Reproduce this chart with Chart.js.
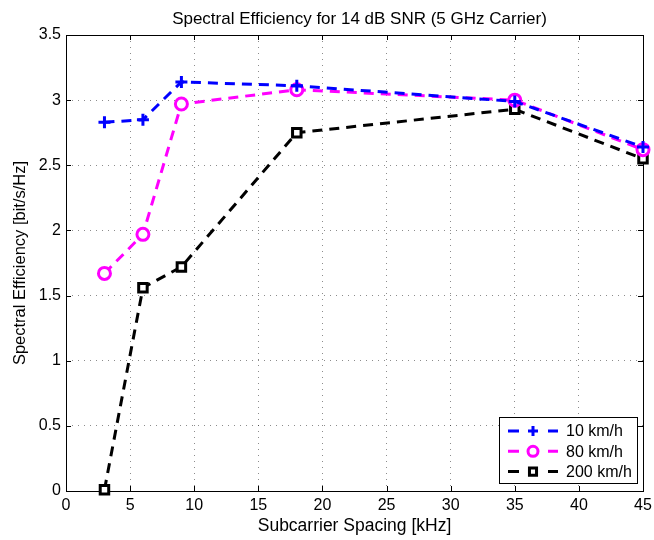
<!DOCTYPE html>
<html>
<head>
<meta charset="utf-8">
<script src="https://cdn.jsdelivr.net/npm/chart.js@4"></script>
<style>
  html, body { margin: 0; padding: 0; background: #fff; }
</style>
</head>
<body>
<canvas id="c" width="654" height="540"></canvas>
<script>
// data
const spacing = [3, 6, 9, 18, 35, 45];
const se10 = [2.83, 2.85, 3.14, 3.11, 2.99, 2.64];
const se80 = [1.67, 1.97, 2.97, 3.08, 3.0, 2.62];
const se200 = [0.01, 1.56, 1.72, 2.75, 2.93, 2.55];
const seriesNames = ['10 km/h', '80 km/h', '200 km/h'];
const xTicks = [0, 5, 10, 15, 20, 25, 30, 35, 40, 45];
const yTicks = [0, 0.5, 1, 1.5, 2, 2.5, 3, 3.5];
const chartTitle = 'Spectral Efficiency for 14 dB SNR (5 GHz Carrier)';

const fontFam = "'Liberation Sans', Arial, sans-serif";
Chart.defaults.font.family = fontFam;
Chart.defaults.font.size = 16;
Chart.defaults.color = '#000';

const toPts = ys => spacing.map((x, i) => ({ x: x, y: ys[i] }));
const dash = [10, 7];

// box + inward tick marks + title over the axes, matlab style
const framePlugin = {
  id: 'frame',
  beforeDatasetsDraw(chart) {
    const { ctx, chartArea: a, scales } = chart;
    ctx.save();
    ctx.strokeStyle = '#000';
    ctx.lineWidth = 1;
    ctx.beginPath();
    xTicks.forEach(v => {
      const px = Math.round(scales.x.getPixelForValue(v)) + 0.5;
      ctx.moveTo(px, a.bottom); ctx.lineTo(px, a.bottom - 5);
      ctx.moveTo(px, a.top); ctx.lineTo(px, a.top + 5);
    });
    yTicks.forEach(v => {
      const py = Math.round(scales.y.getPixelForValue(v)) + 0.5;
      ctx.moveTo(a.left, py); ctx.lineTo(a.left + 5, py);
      ctx.moveTo(a.right, py); ctx.lineTo(a.right - 5, py);
    });
    ctx.stroke();
    ctx.strokeRect(Math.round(a.left) + 0.5, Math.round(a.top) + 0.5,
      Math.round(a.right - a.left), Math.round(a.bottom - a.top));

    ctx.fillStyle = '#000';
    ctx.font = '17px ' + fontFam;
    ctx.textAlign = 'center';
    ctx.textBaseline = 'middle';
    ctx.fillText(chartTitle, (a.left + a.right) / 2 + 5, 19);
    ctx.restore();
  }
};

// legend box in lower right corner
const legendPlugin = {
  id: 'boxLegend',
  afterDraw(chart) {
    const { ctx, chartArea: a } = chart;
    const w = 138, h = 66;
    const x0 = Math.round(a.right) - 6 - w, y0 = Math.round(a.bottom) - 8 - h;
    ctx.save();
    ctx.fillStyle = '#fff';
    ctx.fillRect(x0, y0, w, h);
    ctx.strokeStyle = '#000';
    ctx.lineWidth = 1;
    ctx.strokeRect(x0 + 0.5, y0 + 0.5, w, h);
    chart.data.datasets.forEach((ds, i) => {
      const y = y0 + 14 + i * 20.3;
      ctx.strokeStyle = ds.borderColor;
      ctx.lineWidth = 3;
      ctx.beginPath();
      ctx.moveTo(x0 + 9, y); ctx.lineTo(x0 + 20, y);
      ctx.moveTo(x0 + 49, y); ctx.lineTo(x0 + 59, y);
      ctx.stroke();
      ctx.fillStyle = ds.pointBackgroundColor;
      ctx.strokeStyle = ds.pointBorderColor;
      ctx.lineWidth = ds.pointBorderWidth;
      Chart.helpers.drawPoint(ctx, {
        pointStyle: ds.pointStyle,
        radius: 5,
        borderWidth: ds.pointBorderWidth
      }, x0 + 34, y);
      ctx.fillStyle = '#000';
      ctx.font = '16px ' + fontFam;
      ctx.textBaseline = 'middle';
      ctx.fillText(ds.label, x0 + 67, y + 1);
    });
    ctx.restore();
  }
};

function lineSet(label, ys, color, style, bg) {
  return {
    label: label,
    data: toPts(ys),
    showLine: true,
    borderColor: color,
    backgroundColor: bg,
    borderWidth: 3,
    borderDash: dash,
    pointStyle: style,
    pointRadius: 6,
    pointBorderWidth: 3,
    pointBorderColor: color,
    pointBackgroundColor: bg,
    pointHoverRadius: 6,
    clip: false
  };
}

new Chart(document.getElementById('c'), {
  type: 'scatter',
  data: {
    datasets: [
      lineSet(seriesNames[0], se10, '#0000ff', 'cross', '#0000ff'),
      lineSet(seriesNames[1], se80, '#ff00ff', 'circle', '#ffffff'),
      lineSet(seriesNames[2], se200, '#000000', 'rect', '#ffffff')
    ]
  },
  options: {
    responsive: false,
    animation: false,
    devicePixelRatio: 1,
    layout: { padding: { left: 0, right: 11, top: 35, bottom: 0 } },
    plugins: {
      legend: { display: false },
      tooltip: { enabled: false },
      title: { display: false }
    },
    scales: {
      x: {
        type: 'linear',
        min: 0, max: 45,
        afterBuildTicks: s => { s.ticks = xTicks.map(v => ({ value: v })); },
        afterFit: s => { s.height = 49; s.paddingLeft = 0; s.paddingRight = 0; },
        ticks: { padding: 5, color: '#000', maxRotation: 0 },
        grid: { color: 'rgba(0,0,0,0.45)', drawTicks: false },
        border: { display: false, dash: [1, 5] },
        title: { display: true, text: 'Subcarrier Spacing [kHz]', font: { size: 17.5 }, padding: { top: 0, bottom: 3 } }
      },
      y: {
        type: 'linear',
        min: 0, max: 3.5,
        afterBuildTicks: s => { s.ticks = yTicks.map(v => ({ value: v })); },
        afterFit: s => { s.width = 66; s.paddingTop = 0; s.paddingBottom = 0; },
        ticks: { padding: 5, color: '#000', callback: v => String(v) },
        grid: { color: 'rgba(0,0,0,0.45)', drawTicks: false },
        border: { display: false, dash: [1, 5] },
        title: { display: true, text: 'Spectral Efficiency [bit/s/Hz]', font: { size: 16.5 }, padding: { top: 11, bottom: 0 } }
      }
    }
  },
  plugins: [framePlugin, legendPlugin]
});
</script>
</body>
</html>
